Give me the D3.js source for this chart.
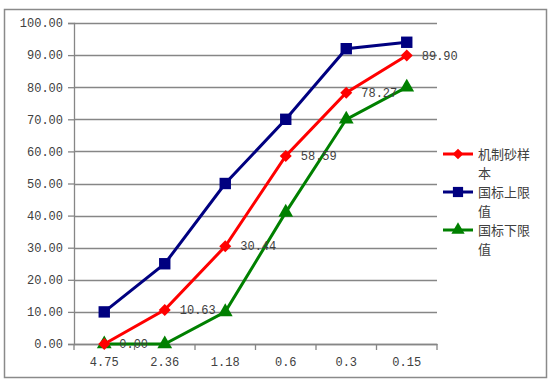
<!DOCTYPE html>
<html>
<head>
<meta charset="utf-8">
<script src="https://cdn.jsdelivr.net/npm/d3@7"></script>
<style>
  body { margin: 0; background: #fff; }
</style>
</head>
<body>
<div id="chart"></div>
<script>
// data
var categories = ["4.75", "2.36", "1.18", "0.6", "0.3", "0.15"];
var sample = [0, 10.63, 30.44, 58.59, 78.27, 89.90];   // 机制砂样本
var upper = [10, 25, 50, 70, 92, 94];                  // 国标上限值
var lower = [0, 0, 10, 41, 70, 80];                    // 国标下限值
var yTicks = [0, 10, 20, 30, 40, 50, 60, 70, 80, 90, 100];
var seriesNames = ["机制砂样本", "国标上限值", "国标下限值"];

var W = 550, H = 383;
var margin = { top: 23, right: 113, bottom: 39, left: 74 },
    width = W - margin.left - margin.right,
    height = H - margin.top - margin.bottom;

var svg = d3.select("#chart")
    .append("svg")
    .attr("width", W)
    .attr("height", H);

// chart frame
svg.append("rect")
    .attr("x", 4.5).attr("y", 9.5)
    .attr("width", 542).attr("height", 368)
    .attr("fill", "#fff")
    .attr("stroke", "#8a8a8a")
    .attr("stroke-width", 1.5);

var g = svg.append("g")
    .attr("transform", "translate(" + margin.left + "," + margin.top + ")");

var x = d3.scaleBand().domain(categories).range([0, width]);
var y = d3.scaleLinear().domain([0, 100]).range([height, 0]);

var numFont = "'Liberation Mono', 'DejaVu Sans Mono', monospace";
var gray = "#868686";
var textColor = "#404040";

// gridlines
g.append("g")
    .selectAll("line")
    .data(yTicks)
    .enter()
    .append("line")
    .attr("x1", 0).attr("x2", width)
    .attr("y1", function (d) { return Math.round(y(d)) + 0.5; })
    .attr("y2", function (d) { return Math.round(y(d)) + 0.5; })
    .attr("stroke", gray)
    .attr("stroke-width", 1.3);

// Y axis
var yAxis = g.append("g")
    .call(d3.axisLeft(y).tickValues(yTicks).tickSize(6).tickPadding(5)
        .tickFormat(d3.format(".2f")));
yAxis.select(".domain").attr("stroke", gray).attr("stroke-width", 1.3);
yAxis.selectAll(".tick line").attr("stroke", gray).attr("stroke-width", 1.3);
yAxis.selectAll("text")
    .attr("font-family", numFont)
    .attr("font-size", 12)
    .attr("fill", textColor);

// X axis with ticks on the category boundaries
var xAxis = g.append("g")
    .attr("transform", "translate(0," + height + ")")
    .call(d3.axisBottom(x).tickSize(0).tickPadding(13));
xAxis.select(".domain").attr("stroke", gray).attr("stroke-width", 1.3);
xAxis.selectAll("text")
    .attr("font-family", numFont)
    .attr("font-size", 12)
    .attr("fill", textColor);
xAxis.selectAll(".bound")
    .data(d3.range(categories.length + 1))
    .enter()
    .append("line")
    .attr("class", "bound")
    .attr("x1", function (i) { return i * x.bandwidth(); })
    .attr("x2", function (i) { return i * x.bandwidth(); })
    .attr("y1", 0).attr("y2", 6)
    .attr("stroke", gray)
    .attr("stroke-width", 1.3);

// a square diamond like Excel's marker
var squareDiamond = {
    draw: function (context, size) {
        var r = Math.sqrt(size / 2);
        context.moveTo(0, -r);
        context.lineTo(r, 0);
        context.lineTo(0, r);
        context.lineTo(-r, 0);
        context.closePath();
    }
};

var series = [
    { name: seriesNames[0], values: sample, color: "#ff0000", symbol: squareDiamond, size: 72 },
    { name: seriesNames[1], values: upper, color: "#000080", symbol: d3.symbolSquare, size: 130 },
    { name: seriesNames[2], values: lower, color: "#008000", symbol: d3.symbolTriangle, size: 95 }
];

var cx = function (i) { return x(categories[i]) + x.bandwidth() / 2; };

var line = d3.line()
    .x(function (d, i) { return cx(i); })
    .y(function (d) { return y(d); });

// draw from last to first so the red series sits on top
series.slice().reverse().forEach(function (s) {
    g.append("path")
        .datum(s.values)
        .attr("fill", "none")
        .attr("stroke", s.color)
        .attr("stroke-width", 3)
        .attr("d", line);
    g.append("g")
        .selectAll("path")
        .data(s.values)
        .enter()
        .append("path")
        .attr("transform", function (d, i) { return "translate(" + cx(i) + "," + y(d) + ")"; })
        .attr("d", d3.symbol().type(s.symbol).size(s.size))
        .attr("fill", s.color);
});

// data labels for the sample series
g.append("g")
    .selectAll("text")
    .data(sample)
    .enter()
    .append("text")
    .attr("x", function (d, i) { return cx(i) + 15; })
    .attr("y", function (d) { return y(d); })
    .attr("dy", "0.35em")
    .attr("font-family", numFont)
    .attr("font-size", 12)
    .attr("fill", textColor)
    .text(function (d) { return d3.format(".2f")(d); });

// legend
var legend = svg.append("g").attr("transform", "translate(443,0)");
var legY = [154, 192, 230];
series.forEach(function (s, i) {
    var row = legend.append("g").attr("transform", "translate(0," + legY[i] + ")");
    row.append("line")
        .attr("x1", 0).attr("x2", 30)
        .attr("stroke", s.color)
        .attr("stroke-width", 3);
    row.append("path")
        .attr("transform", "translate(15,0)")
        .attr("d", d3.symbol().type(s.symbol).size(s.size * 0.8))
        .attr("fill", s.color);
    var t = row.append("text")
        .attr("x", 35)
        .attr("font-family", "'Noto Sans CJK SC', sans-serif")
        .attr("font-size", 13)
        .attr("fill", textColor);
    t.append("tspan").attr("x", 35).attr("dy", "0.35em").text(s.name.slice(0, 4));
    t.append("tspan").attr("x", 35).attr("dy", 19).text(s.name.slice(4));
});
</script>
</body>
</html>
